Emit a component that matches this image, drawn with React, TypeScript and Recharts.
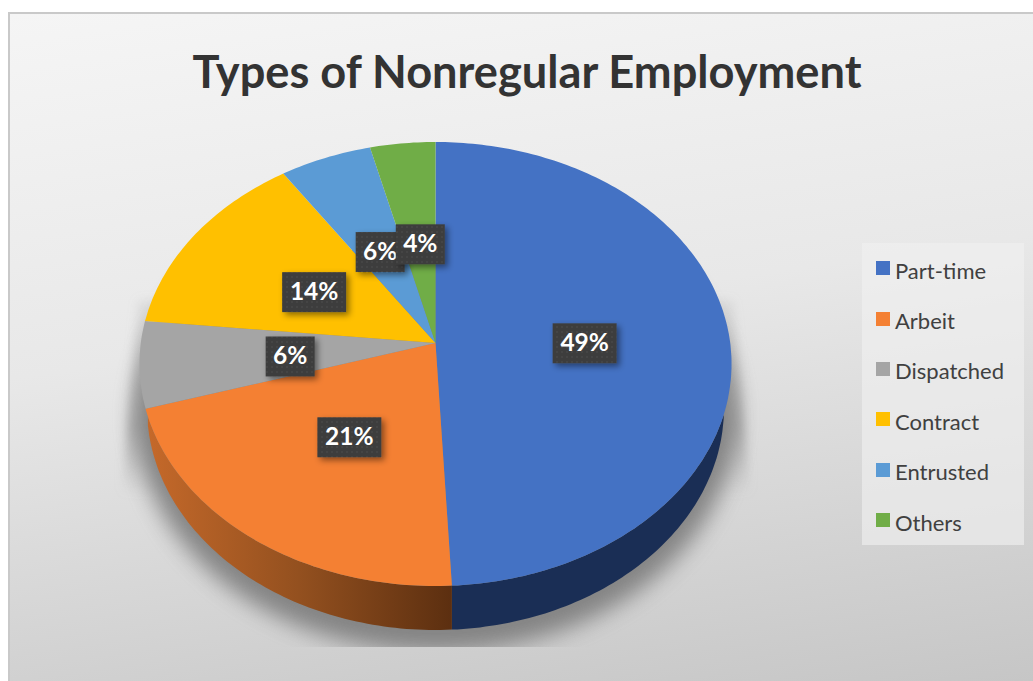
import { PieChart, Pie, Legend } from 'recharts'

const names = ['Part-time', 'Arbeit', 'Dispatched', 'Contract', 'Entrusted', 'Others']
const shares = [49.2, 21.1, 6.3, 14.0, 5.5, 3.9]
const colors = ['#4472c4', '#f48033', '#a5a5a5', '#ffc000', '#5b9bd5', '#70ad47']
const wallColors = ['#1a2e55', 'url(#orangeWall)', '#6b6b6b', '#8f6c00', '#2f5f8c', '#40682a']

const rows = names.map((name, i) => ({ name, value: shares[i], fill: colors[i], wall: wallColors[i] }))

// the pie is tilted, so angles go through a small perspective projection
const APEX_X = 435.5
const APEX_Y = 343
const project = (deg: number, f = 1) => {
  const rad = (deg * Math.PI) / 180
  const u = Math.sin(rad) * f
  const v = -Math.cos(rad) * f
  const d = 1 - 0.0946 * v
  return { x: APEX_X + (294.7 * u) / d, y: APEX_Y + (220 * v) / d }
}

const sweep = (start: number, end: number) => {
  const a = 90 - start
  const b = 90 - end
  const out: number[] = []
  const n = Math.max(2, Math.ceil(Math.abs(b - a)))
  for (let i = 0; i <= n; i++) out.push(a + ((b - a) * i) / n)
  return out
}

function TopSlice(props: any) {
  const pts = sweep(props.startAngle, props.endAngle).map((d) => project(d))
  const path = `M${APEX_X},${APEX_Y} ` + pts.map((p) => `L${p.x.toFixed(1)},${p.y.toFixed(1)}`).join(' ') + ' Z'
  return <path d={path} fill={props.fill} stroke="none" />
}

function WallSlice(props: any) {
  const top: { x: number; y: number }[] = []
  const low: { x: number; y: number }[] = []
  sweep(props.startAngle, props.endAngle).forEach((d) => {
    if (Math.cos((d * Math.PI) / 180) > 0) return // back half has no visible wall
    const p = project(d)
    const dx = (p.x - APEX_X) / 288.5
    if (Math.abs(dx) >= 1) return
    const qy = 408 + 222 * Math.sqrt(1 - dx * dx)
    if (qy <= p.y) return
    top.push(p)
    low.push({ x: p.x, y: qy })
  })
  if (top.length < 2) return null
  const all = [...top, ...low.reverse()]
  const path = 'M' + all.map((p) => `${p.x.toFixed(1)},${p.y.toFixed(1)}`).join(' L') + ' Z'
  return <path d={path} fill={props.wall} stroke="none" />
}

function SliceLabel(props: any) {
  const p = project(90 - props.midAngle, 0.5)
  const text = `${Math.round(props.value)}%`
  const w = text.length === 2 ? 49 : 64
  const x = p.x + 2
  const y = p.y + 3 - 0.025 * (p.y - APEX_Y)
  return (
    <g>
      <rect x={x - w / 2} y={y - 20} width={w} height={40} fill="url(#labelDots)" filter="url(#labelShadow)" />
      <text x={x} y={y + 8} textAnchor="middle" fill="#fff" fontFamily="Lato" fontWeight={700} fontSize={24.5}>
        {text}
      </text>
    </g>
  )
}

function LegendBox({ payload }: any) {
  const items = (payload || []).filter((e: any, i: number, a: any[]) => a.findIndex((x) => x.value === e.value) === i)
  return (
    <div style={{ width: 162, height: 302, background: 'rgba(240,240,240,0.62)', paddingTop: 2, boxSizing: 'border-box' }}>
      {items.map((e: any) => (
        <div key={e.value} style={{ display: 'flex', alignItems: 'center', height: 50.4, paddingLeft: 14 }}>
          <span style={{ width: 14, height: 14, background: e.color, marginRight: 5, marginTop: -4 }} />
          <span style={{ fontFamily: 'Lato', fontSize: 22, color: '#404040' }}>{e.value}</span>
        </div>
      ))}
    </div>
  )
}

export default function App() {
  return (
    <div style={{ position: 'absolute', left: 0, top: 0, width: 1033, height: 681, overflow: 'hidden', background: '#fff' }}>
      <div
        style={{
          position: 'absolute', left: 8, top: 12, width: 1025, height: 669, boxSizing: 'border-box',
          borderTop: '2px solid #c9c9c9', borderLeft: '2px solid #c9c9c9',
          background: 'linear-gradient(172deg, #f5f5f5 0%, #e8e8e8 45%, #c6c6c6 100%)',
        }}
      />
      <svg width={1033} height={681} style={{ position: 'absolute', left: 0, top: 0 }}>
        <defs>
          <filter id="shadowBlur" x="-20%" y="-20%" width="140%" height="140%">
            <feGaussianBlur stdDeviation="11" />
          </filter>
          <filter id="bandBlur" x="-20%" y="-20%" width="140%" height="140%">
            <feGaussianBlur stdDeviation="5" />
          </filter>
          <linearGradient id="bandFade" x1="0" y1="300" x2="0" y2="495" gradientUnits="userSpaceOnUse">
            <stop offset="0%" stopColor="#a0a0a0" stopOpacity={0.15} />
            <stop offset="65%" stopColor="#a0a0a0" stopOpacity={0.65} />
            <stop offset="100%" stopColor="#a0a0a0" stopOpacity={0} />
          </linearGradient>
          <clipPath id="shadowClip">
            <rect x={0} y={250} width={1033} height={397} />
          </clipPath>
        </defs>
        <g clipPath="url(#shadowClip)">
          <path d="M138,300 L733,300 L750,495 L122,495 Z" fill="url(#bandFade)" filter="url(#bandBlur)" />
          <ellipse cx={436} cy={416} rx={300} ry={236} fill="#7c7c7c" opacity={0.9} filter="url(#shadowBlur)" />
        </g>
      </svg>
      <div style={{ position: 'absolute', left: 0, top: 0 }}>
        <PieChart width={1033} height={681} margin={{ top: 0, right: 0, bottom: 0, left: 0 }}>
          <defs>
            <linearGradient id="orangeWall" x1="147" y1="0" x2="452" y2="0" gradientUnits="userSpaceOnUse">
              <stop offset="0%" stopColor="#c5692a" />
              <stop offset="50%" stopColor="#93501f" />
              <stop offset="100%" stopColor="#5c2f10" />
            </linearGradient>
            <pattern id="labelDots" width="5" height="5" patternUnits="userSpaceOnUse">
              <rect width="5" height="5" fill="#3e3e3e" />
              <circle cx="2" cy="2" r="0.8" fill="#4a4a4a" />
            </pattern>
            <filter id="labelShadow" x="-30%" y="-30%" width="170%" height="170%">
              <feDropShadow dx="3" dy="3" stdDeviation="3" floodColor="#000" floodOpacity="0.45" />
            </filter>
          </defs>
          <text x={527} y={88} textAnchor="middle" fontFamily="Lato" fontWeight={700} fontSize={45.2} fill="#333">
            Types of Nonregular Employment
          </text>
          <Pie
            data={rows}
            dataKey="value"
            nameKey="name"
            cx={APEX_X}
            cy={APEX_Y + 44}
            outerRadius={200}
            startAngle={90}
            endAngle={-270}
            shape={WallSlice}
            legendType="none"
            label={false}
            isAnimationActive={false}
          />
          <Pie
            data={rows}
            dataKey="value"
            nameKey="name"
            cx={APEX_X}
            cy={APEX_Y}
            outerRadius={200}
            startAngle={90}
            endAngle={-270}
            shape={TopSlice}
            label={SliceLabel}
            labelLine={false}
            isAnimationActive={false}
          />
          <Legend
            content={<LegendBox />}
            itemSorter={null}
            layout="vertical"
            verticalAlign="top"
            align="right"
            wrapperStyle={{ position: 'absolute', left: 862, top: 243, width: 162 }}
          />
        </PieChart>
      </div>
    </div>
  )
}
